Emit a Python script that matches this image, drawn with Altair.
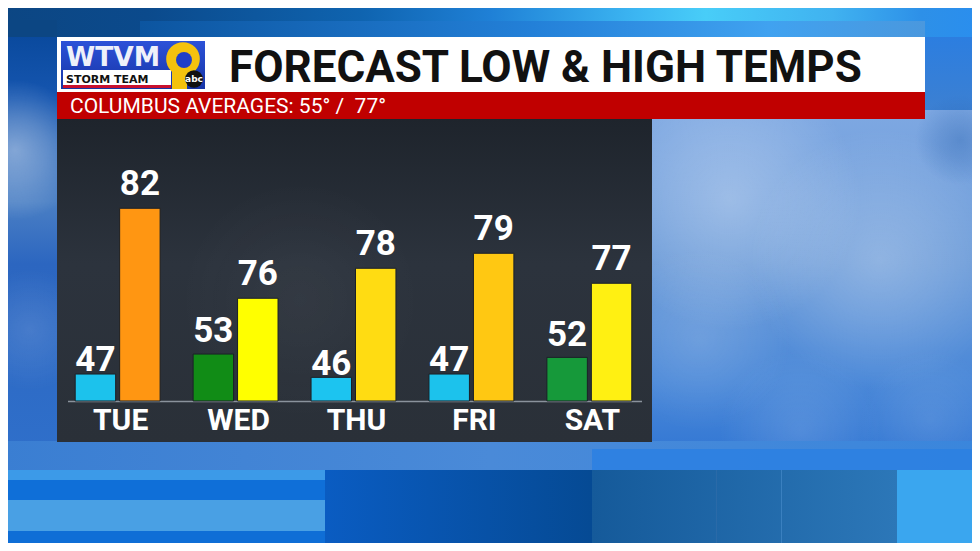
import math
import altair as alt
import pandas as pd

# ---------------- data ----------------
days = ["TUE", "WED", "THU", "FRI", "SAT"]
lows = [47, 53, 46, 47, 52]
highs = [82, 76, 78, 79, 77]
low_colors = ["#1cc2ec", "#118c16", "#1cc4f0", "#1cc2ec", "#16993a"]
high_colors = ["#ff9612", "#ffff00", "#ffdc12", "#ffc812", "#fff012"]
title_text = "FORECAST LOW & HIGH TEMPS"
subtitle_text = "COLUMBUS AVERAGES: 55° / \u00a077°"

# ---------------- layout (reference pixel frame) ----------------
OX, OY = 66, 121          # plot-area origin in page pixels
PW, PH = 575, 280         # plot area (bars sit on y = PH)
PAD = {"left": OX - 8, "top": OY - 8, "right": 964 - (OX - 8) - PW, "bottom": 535 - (OY - 8) - PH}


def rx(x):
    return x - OX


def ry(y):
    return y - OY


one = alt.Data(values=[{}])


def grad(stops, vertical=True):
    return alt.LinearGradient(
        gradient="linear",
        stops=[alt.GradientStop(color=c, offset=o) for o, c in stops],
        x1=0, y1=0, x2=0 if vertical else 1, y2=1 if vertical else 0,
    )


def soft(alpha, tint="255,255,255"):
    return alt.RadialGradient(
        gradient="radial", x1=0.5, y1=0.5, r1=0, x2=0.5, y2=0.5, r2=0.5,
        stops=[alt.GradientStop(color=f"rgba({tint},{alpha})", offset=0),
               alt.GradientStop(color=f"rgba({tint},{alpha * 0.6})", offset=0.45),
               alt.GradientStop(color=f"rgba({tint},0)", offset=1)],
    )


def box(x0, y0, x1, y1, color, **kw):
    return alt.Chart(one).mark_rect(color=color, **kw).encode(
        x=alt.value(rx(x0)), x2=alt.value(rx(x1)),
        y=alt.value(ry(y0)), y2=alt.value(ry(y1)),
    )


def cloud(cx, cy, d, alpha, tint="255,255,255"):
    return box(cx - d / 2, cy - d / 2, cx + d / 2, cy + d / 2, soft(alpha, tint))


def dot(cx, cy, r, color, **kw):
    return alt.Chart(one).mark_circle(color=color, opacity=1, **kw).encode(
        x=alt.value(rx(cx)), y=alt.value(ry(cy)), size=alt.value(math.pi * r * r),
    )


def label(x, y, txt, **kw):
    return alt.Chart(one).mark_text(**kw).encode(
        x=alt.value(rx(x)), y=alt.value(ry(y)), text=alt.value(txt),
    )


# ---------------- background ----------------
decor = [
    box(0, 0, 980, 551, "#2f72cc"),
    # top strip
    box(0, 0, 980, 37, grad([(0, "#0c4683"), (0.15, "#0b4a8c"), (0.37, "#0f64b0"), (0.5, "#1f80d6"),
                             (0.65, "#3cb6f2"), (0.72, "#48cdf8"), (0.85, "#40b2f0"), (0.94, "#2d90e8"),
                             (1, "#2a8eee")], vertical=False)),
    box(140, 21, 925, 37, grad([(0, "#0c55a0"), (0.5, "#2380d8"), (0.8, "#40a2f0"), (1, "#4a98de")],
                               vertical=False)),
    box(0, 20, 57, 37, "#0c4683"),
    # right of header
    box(925, 37, 980, 119, grad([(0, "#2c7ee0"), (1, "#3e80d0")])),
    # right sky
    box(652, 110, 980, 450, grad([(0, "#7ea8e2"), (0.45, "#6a9ad8"), (0.8, "#4a88d8"), (1, "#3478d4")])),
    cloud(730, 200, 260, 0.30),
    cloud(880, 260, 260, 0.25),
    cloud(700, 340, 180, 0.14),
    cloud(960, 140, 90, 0.35, tint="30,90,170"),
    cloud(800, 430, 160, 0.12),
    cloud(930, 420, 140, 0.10),
    # left strip
    box(0, 37, 57, 450, grad([(0, "#0a4a9e"), (0.15, "#1656b0"), (0.4, "#4a7fc4"), (0.55, "#2c66c0"),
                              (1, "#2f6fca")])),
    cloud(15, 150, 140, 0.40),
    cloud(30, 330, 120, 0.12),
    # bottom bands
    box(0, 441, 980, 470, grad([(0, "#3a7ed2"), (0.5, "#4a8ad8"), (1, "#3a86dc")], vertical=False)),
    box(592, 449, 980, 470, "#2c80e2", opacity=0.85),
    box(0, 470, 325, 480, "#3c9ae8"),
    box(0, 480, 325, 500, "#0f6fd8"),
    box(0, 500, 325, 531, "#49a0e4"),
    box(0, 531, 325, 551, "#0f6ed6"),
    box(325, 470, 592, 551, grad([(0, "#0a5cc2"), (1, "#054a94")], vertical=False)),
    box(592, 470, 897, 551, grad([(0, "#155a9a"), (1, "#2c77b8")], vertical=False)),
    box(716, 470, 717, 551, "#2a6aa8"),
    box(781, 470, 782, 551, "#3a80c0"),
    box(897, 470, 980, 551, "#3aa6ef"),
    # header
    box(57, 37, 925, 92, "white"),
    box(57, 92, 925, 119, "#c00000"),
    box(57, 119, 652, 442, grad([(0, "#1e242c"), (0.45, "#2c333d"), (1, "#2a3038")])),
    cloud(300, 300, 240, 0.035),
    # logo
    box(61, 41, 205, 89, grad([(0, "#2c52d8"), (1, "#1634a6")])),
    label(66, 65.5, "WTVM", font="DejaVu Sans", fontWeight="bold", fontSize=26.5, align="left",
          baseline="alphabetic", color="#eef1fa"),
    box(63, 70, 171, 85, "white"),
    label(66, 82.5, "STORM TEAM", font="DejaVu Sans", fontWeight="bold", fontSize=11, align="left",
          baseline="alphabetic", color="#111111"),
    box(63, 85, 171, 88, "#c8102e"),
    box(172, 68, 187, 89, "#f4c20d"),
    dot(183, 59, 19, "#f4c20d"),
    dot(184, 60, 9, "#1f3fc8"),
    dot(194, 79, 10, "#111111"),
    label(194, 79, "abc", font="DejaVu Sans", fontWeight="bold", fontSize=9, align="center",
          baseline="middle", color="white"),
    # titles
    label(229, 81.5, title_text, font="Roboto", fontWeight="bold", fontSize=44, align="left",
          baseline="alphabetic", color="#111111"),
    label(70, 113.3, subtitle_text, font="Roboto", fontSize=21, align="left",
          baseline="alphabetic", color="white"),
    # baseline of the bars
    alt.Chart(one).mark_rule(color="#8a929c", strokeWidth=1.5).encode(
        x=alt.value(rx(68)), x2=alt.value(rx(642)), y=alt.value(PH + 0.5)),
]

# ---------------- bars and labels ----------------
df = pd.DataFrame({"day": days, "low": lows, "high": highs,
                   "low_color": low_colors, "high_color": high_colors})

xenc = alt.X("day:N", sort=days, axis=None,
             scale=alt.Scale(domain=days, paddingInner=0.28, paddingOuter=0.078))
off_scale = alt.Scale(domain=["low", "high"], paddingInner=0.09, paddingOuter=0)

LOW_DOM = [38.9, 123.0]
HIGH_DOM = [69.15, 87.82]
LOW_LABEL_DOM = [40.7, 98.7]

base = alt.Chart(df)

low_bars = base.transform_calculate(kind="'low'").mark_bar(stroke="#1b2027", strokeWidth=1).encode(
    x=xenc,
    xOffset=alt.XOffset("kind:N", scale=off_scale),
    y=alt.Y("low:Q", scale=alt.Scale(domain=LOW_DOM, zero=False, nice=False), axis=None),
    y2=alt.Y2(datum=LOW_DOM[0]),
    color=alt.Color("low_color:N", scale=None),
)
high_bars = base.transform_calculate(kind="'high'").mark_bar(stroke="#1b2027", strokeWidth=1).encode(
    x=xenc,
    xOffset=alt.XOffset("kind:N", scale=off_scale),
    y=alt.Y("high:Q", scale=alt.Scale(domain=HIGH_DOM, zero=False, nice=False), axis=None),
    y2=alt.Y2(datum=HIGH_DOM[0]),
    color=alt.Color("high_color:N", scale=None),
)
low_text = base.transform_calculate(kind="'low'").mark_text(
    font="Roboto", fontWeight="bold", fontSize=35, color="white", baseline="alphabetic", align="center"
).encode(
    x=xenc,
    xOffset=alt.XOffset("kind:N", scale=off_scale),
    y=alt.Y("low:Q", scale=alt.Scale(domain=LOW_LABEL_DOM, zero=False, nice=False), axis=None),
    text=alt.Text("low:Q"),
)
high_text = base.transform_calculate(kind="'high'").mark_text(
    font="Roboto", fontWeight="bold", fontSize=35, color="white", baseline="alphabetic", align="center", dy=-13
).encode(
    x=xenc,
    xOffset=alt.XOffset("kind:N", scale=off_scale),
    y=alt.Y("high:Q", scale=alt.Scale(domain=HIGH_DOM, zero=False, nice=False), axis=None),
    text=alt.Text("high:Q"),
)
day_text = base.mark_text(
    font="Roboto", fontWeight="bold", fontSize=30, color="white", baseline="alphabetic", align="center", dx=3
).encode(
    x=xenc,
    y=alt.value(ry(430)),
    text=alt.Text("day:N"),
)

chart = alt.layer(*decor, low_bars, high_bars, low_text, high_text, day_text).resolve_scale(
    y="independent"
).properties(
    width=PW, height=PH, padding=PAD, autosize="none", background="#2f72cc"
).configure_view(stroke=None)

chart.save("out.html", embed_options={"renderer": "svg", "actions": False})
